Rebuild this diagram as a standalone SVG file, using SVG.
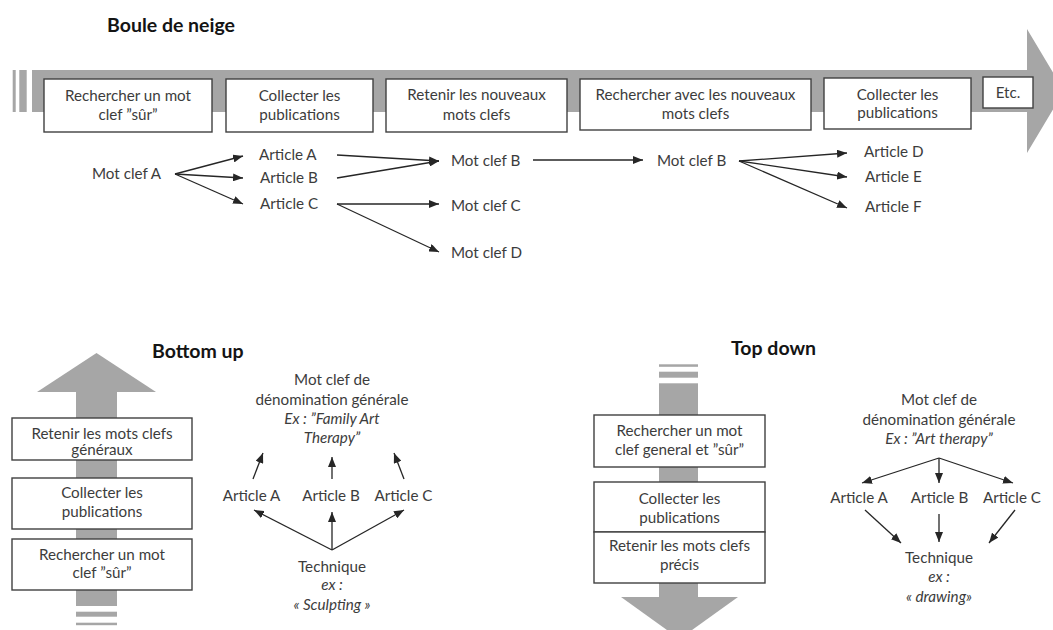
<svg xmlns="http://www.w3.org/2000/svg" width="1053" height="630" viewBox="0 0 1053 630">
  <defs>
    <style>
      .band { fill: #a6a6a6; }
      .box { fill: #ffffff; stroke: #404040; stroke-width: 1.4; }
      .t { font-family: Lato, "Liberation Sans", sans-serif; font-size: 15.2px; fill: #3c3c3c; }
      .c { text-anchor: middle; }
      .i { font-style: italic; }
      .title { font-family: Lato, "Liberation Sans", sans-serif; font-weight: bold; font-size: 19.5px; fill: #141414; }
      .conn line { stroke: #262626; stroke-width: 1.3; fill: none; marker-end: url(#ah); }
    </style>
    <marker id="ah" markerUnits="userSpaceOnUse" markerWidth="10" markerHeight="8" refX="10" refY="4" orient="auto">
      <path d="M0,0 L10,4 L0,8 Z" fill="#262626"/>
    </marker>
  </defs>
  <rect width="1053" height="630" fill="#ffffff"/>

  <!-- ===== Boule de neige ===== -->
  <text class="title" x="107" y="32">Boule de neige</text>

  <g id="snowball-arrow">
    <rect class="band" x="12.7" y="70" width="3" height="42"/>
    <rect class="band" x="19.3" y="70" width="7.4" height="42"/>
    <path class="band" d="M32,70 H1027 V29 L1064,91 L1027,153 V112 H32 Z"/>
  </g>

  <g id="step-rechercher">
    <rect class="box" x="44" y="79" width="168" height="53"/>
    <text class="t c" x="128" y="101">Rechercher un mot</text>
    <text class="t c" x="128" y="120">clef ”sûr”</text>
  </g>
  <g id="step-collecter">
    <rect class="box" x="226" y="79" width="147" height="53"/>
    <text class="t c" x="299.5" y="101">Collecter les</text>
    <text class="t c" x="299.5" y="120">publications</text>
  </g>
  <g id="step-retenir">
    <rect class="box" x="386" y="79" width="181" height="53"/>
    <text class="t c" x="476.5" y="100">Retenir les nouveaux</text>
    <text class="t c" x="476.5" y="120">mots clefs</text>
  </g>
  <g id="step-rechercher-nouveaux">
    <rect class="box" x="580" y="79" width="231" height="51"/>
    <text class="t c" x="695.5" y="100">Rechercher avec les nouveaux</text>
    <text class="t c" x="695.5" y="119">mots clefs</text>
  </g>
  <g id="step-collecter-2">
    <rect class="box" x="824" y="78" width="147" height="51"/>
    <text class="t c" x="897.5" y="100">Collecter les</text>
    <text class="t c" x="897.5" y="118">publications</text>
  </g>
  <g id="step-etc">
    <rect class="box" x="983" y="77" width="50" height="31"/>
    <text class="t c" x="1008" y="98">Etc.</text>
  </g>

  <g id="sb-motclef-a"><text class="t" x="92" y="179">Mot clef A</text></g>
  <g id="sb-article-a"><text class="t" x="259" y="160">Article A</text></g>
  <g id="sb-article-b"><text class="t" x="260" y="183">Article B</text></g>
  <g id="sb-article-c"><text class="t" x="260" y="209">Article C</text></g>
  <g id="sb-motclef-b"><text class="t" x="451" y="166">Mot clef B</text></g>
  <g id="sb-motclef-c"><text class="t" x="451" y="211">Mot clef C</text></g>
  <g id="sb-motclef-d"><text class="t" x="451" y="258">Mot clef D</text></g>
  <g id="sb-motclef-b2"><text class="t" x="657" y="166">Mot clef B</text></g>
  <g id="sb-article-d"><text class="t" x="864" y="157">Article D</text></g>
  <g id="sb-article-e"><text class="t" x="865" y="182">Article E</text></g>
  <g id="sb-article-f"><text class="t" x="865" y="212">Article F</text></g>

  <!-- ===== Bottom up ===== -->
  <text class="title" x="152" y="358">Bottom up</text>

  <g id="bottomup-arrow">
    <rect class="band" x="76" y="390" width="41" height="216"/>
    <path class="band" d="M37,392 L96.5,353 L156,392 Z"/>
    <rect class="band" x="76" y="611.7" width="41" height="5"/>
    <rect class="band" x="76" y="622.7" width="41" height="2.5"/>
  </g>
  <g id="bu-retenir">
    <rect class="box" x="12" y="418" width="180" height="42"/>
    <text class="t c" x="102" y="439">Retenir les mots clefs</text>
    <text class="t c" x="102" y="455">généraux</text>
  </g>
  <g id="bu-collecter">
    <rect class="box" x="12" y="478" width="180" height="51"/>
    <text class="t c" x="102" y="498">Collecter les</text>
    <text class="t c" x="102" y="517">publications</text>
  </g>
  <g id="bu-rechercher">
    <rect class="box" x="12" y="539" width="180" height="51"/>
    <text class="t c" x="102" y="560">Rechercher un mot</text>
    <text class="t c" x="102" y="578">clef ”sûr”</text>
  </g>

  <g id="bu-general">
    <text class="t c" x="332" y="385">Mot clef de</text>
    <text class="t c" x="332" y="405">dénomination générale</text>
    <text class="t c i" x="332" y="424">Ex : ”Family Art</text>
    <text class="t c i" x="332" y="443">Therapy”</text>
  </g>
  <g id="bu-article-a"><text class="t c" x="251.5" y="501">Article A</text></g>
  <g id="bu-article-b"><text class="t c" x="331" y="501">Article B</text></g>
  <g id="bu-article-c"><text class="t c" x="403.5" y="501">Article C</text></g>
  <g id="bu-technique">
    <text class="t c" x="332" y="572">Technique</text>
    <text class="t c i" x="332" y="590">ex :</text>
    <text class="t c i" x="332" y="610">« Sculpting »</text>
  </g>

  <!-- ===== Top down ===== -->
  <text class="title" x="731" y="355">Top down</text>

  <g id="topdown-arrow">
    <rect class="band" x="659" y="364.3" width="39" height="2.5"/>
    <rect class="band" x="659" y="371.7" width="39" height="6"/>
    <rect class="band" x="659" y="383.3" width="39" height="215"/>
    <path class="band" d="M621,597 L738,597 L679.5,639 Z"/>
  </g>
  <g id="td-rechercher">
    <rect class="box" x="594" y="415" width="171" height="52"/>
    <text class="t c" x="679.5" y="436">Rechercher un mot</text>
    <text class="t c" x="679.5" y="455">clef general et ”sûr”</text>
  </g>
  <g id="td-collecter">
    <rect class="box" x="594" y="482" width="171" height="50"/>
    <text class="t c" x="679.5" y="504">Collecter les</text>
    <text class="t c" x="679.5" y="523">publications</text>
  </g>
  <g id="td-retenir">
    <rect class="box" x="594" y="532" width="171" height="51"/>
    <text class="t c" x="679.5" y="551">Retenir les mots clefs</text>
    <text class="t c" x="679.5" y="570">précis</text>
  </g>

  <g id="td-general">
    <text class="t c" x="939" y="405">Mot clef de</text>
    <text class="t c" x="939" y="425">dénomination générale</text>
    <text class="t c i" x="939" y="444">Ex : ”Art therapy”</text>
  </g>
  <g id="td-article-a"><text class="t c" x="859" y="503">Article A</text></g>
  <g id="td-article-b"><text class="t c" x="939.5" y="503">Article B</text></g>
  <g id="td-article-c"><text class="t c" x="1012" y="503">Article C</text></g>
  <g id="td-technique">
    <text class="t c" x="939" y="563">Technique</text>
    <text class="t c i" x="939" y="582">ex :</text>
    <text class="t c i" x="939" y="602">« drawing»</text>
  </g>

  <!-- ===== Connectors ===== -->
  <g id="connectors" class="conn">
    <!-- snowball -->
    <line x1="175" y1="174" x2="243" y2="156"/>
    <line x1="175" y1="174" x2="243" y2="178"/>
    <line x1="175" y1="174" x2="243" y2="204"/>
    <line x1="337" y1="155" x2="439" y2="161"/>
    <line x1="337" y1="178" x2="439" y2="161"/>
    <line x1="337" y1="204" x2="439" y2="204"/>
    <line x1="337" y1="204" x2="439" y2="252"/>
    <line x1="533" y1="160" x2="643" y2="160"/>
    <line x1="739" y1="161" x2="847" y2="153"/>
    <line x1="739" y1="161" x2="847" y2="177"/>
    <line x1="739" y1="161" x2="847" y2="208"/>
    <!-- bottom up -->
    <line x1="253" y1="479" x2="263" y2="453"/>
    <line x1="332" y1="479" x2="332" y2="457"/>
    <line x1="404" y1="479" x2="394" y2="453"/>
    <line x1="332" y1="550" x2="254" y2="510"/>
    <line x1="332" y1="550" x2="332" y2="512"/>
    <line x1="332" y1="550" x2="404" y2="510"/>
    <!-- top down -->
    <line x1="939" y1="458" x2="862" y2="483"/>
    <line x1="939" y1="458" x2="939" y2="483"/>
    <line x1="939" y1="458" x2="1013" y2="483"/>
    <line x1="865" y1="510" x2="901" y2="543"/>
    <line x1="939" y1="514" x2="939" y2="542"/>
    <line x1="1015" y1="510" x2="989" y2="543"/>
  </g>
</svg>
